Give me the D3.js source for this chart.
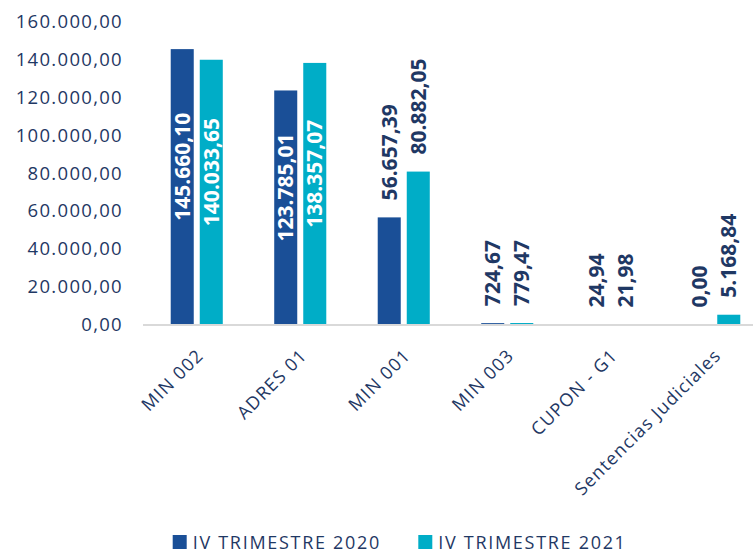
<!DOCTYPE html>
<html>
<head>
<meta charset="utf-8">
<script src="https://cdn.jsdelivr.net/npm/d3@7"></script>
<style>
  html, body { margin: 0; padding: 0; background: #fff; }
  svg { display: block; font-family: "Open Sans", sans-serif; }
</style>
</head>
<body>
<svg id="chart" width="753" height="553"></svg>
<script>
const categories = ["MIN 002", "ADRES 01", "MIN 001", "MIN 003", "CUPON - G1", "Sentencias Judiciales"];
const seriesNames = ["IV TRIMESTRE 2020", "IV TRIMESTRE 2021"];
const values2020 = [145660.10, 123785.01, 56657.39, 724.67, 24.94, 0.00];
const values2021 = [140033.65, 138357.07, 80882.05, 779.47, 21.98, 5168.84];
const labels2020 = ["145.660,10", "123.785,01", "56.657,39", "724,67", "24,94", "0,00"];
const labels2021 = ["140.033,65", "138.357,07", "80.882,05", "779,47", "21,98", "5.168,84"];
const yTicks = [0, 20000, 40000, 60000, 80000, 100000, 120000, 140000, 160000];
const yTickLabels = ["0,00", "20.000,00", "40.000,00", "60.000,00", "80.000,00", "100.000,00", "120.000,00", "140.000,00", "160.000,00"];

const colors = ["#1a4f97", "#00adc7"];
const textColor = "#1f3864";

const svg = d3.select("#chart");

const x0 = d3.scaleBand().domain(categories).range([145, 766]).paddingInner(0.497).paddingOuter(0.2485);
const x1 = d3.scaleBand().domain(seriesNames).range([0, x0.bandwidth()]).paddingInner(0.207);
const y = d3.scaleLinear().domain([0, 160000]).range([324.5, 22]);

const rows = [];
categories.forEach((c, i) => {
  rows.push({cat: c, s: seriesNames[0], v: values2020[i], label: labels2020[i], ci: 0});
  rows.push({cat: c, s: seriesNames[1], v: values2021[i], label: labels2021[i], ci: 1});
});

// y axis tick labels
const yAxis = d3.axisLeft(y).tickValues(yTicks).tickFormat((d, i) => yTickLabels[i]).tickSize(0).tickPadding(0);
const yg = svg.append("g").attr("transform", "translate(123,0)").call(yAxis);
yg.select(".domain").remove();
yg.selectAll("text")
  .attr("fill", textColor)
  .style("font-size", "18.5px")
  .style("letter-spacing", "1.3px")
  .style("font-family", "'Open Sans', sans-serif");

// bars
svg.append("g").selectAll("rect").data(rows).join("rect")
  .attr("x", d => x0(d.cat) + x1(d.s))
  .attr("width", x1.bandwidth())
  .attr("y", d => y(d.v))
  .attr("height", d => Math.max(0, y(0) - y(d.v)))
  .attr("fill", d => colors[d.ci]);

// x axis line
svg.append("line")
  .attr("x1", 143).attr("x2", 753)
  .attr("y1", y(0) + 0.5).attr("y2", y(0) + 0.5)
  .attr("stroke", "#d9d9d9").attr("stroke-width", 2);

// data labels
svg.append("g").selectAll("text").data(rows).join("text")
  .attr("transform", d => {
    const cx = x0(d.cat) + x1(d.s) + x1.bandwidth() / 2;
    const inside = d.v > 100000;
    const cy = inside ? (y(d.v) + y(0)) / 2 - 20 : y(d.v) - 17;
    return `translate(${cx},${cy}) rotate(-90)`;
  })
  .attr("text-anchor", d => d.v > 100000 ? "middle" : "start")
  .attr("dy", "0.35em")
  .attr("fill", d => d.v > 100000 ? "#ffffff" : textColor)
  .style("font-size", "21px")
  .style("font-weight", "bold")
  .text(d => d.label);

// x axis category labels
const xAxis = d3.axisBottom(x0).tickSize(0).tickPadding(0);
const xg = svg.append("g").attr("transform", `translate(0,${y(0)})`).call(xAxis);
xg.select(".domain").remove();
xg.selectAll("text")
  .attr("transform", "translate(8,32) rotate(-45)")
  .attr("text-anchor", "end")
  .attr("dy", 0)
  .attr("y", 0)
  .attr("fill", textColor)
  .style("font-size", "18px")
  .style("letter-spacing", "1.2px")
  .style("font-family", "'Open Sans', sans-serif");

// legend
const legendX = [172.7, 418.3];
const lg = svg.append("g").selectAll("g").data(seriesNames).join("g")
  .attr("transform", (d, i) => `translate(${legendX[i]},535)`);
lg.append("rect").attr("width", 14).attr("height", 14).attr("fill", (d, i) => colors[i]);
lg.append("text")
  .attr("x", 20).attr("y", 13.5)
  .attr("fill", textColor)
  .style("font-size", "18px")
  .style("letter-spacing", "1.7px")
  .text(d => d);
</script>
</body>
</html>
